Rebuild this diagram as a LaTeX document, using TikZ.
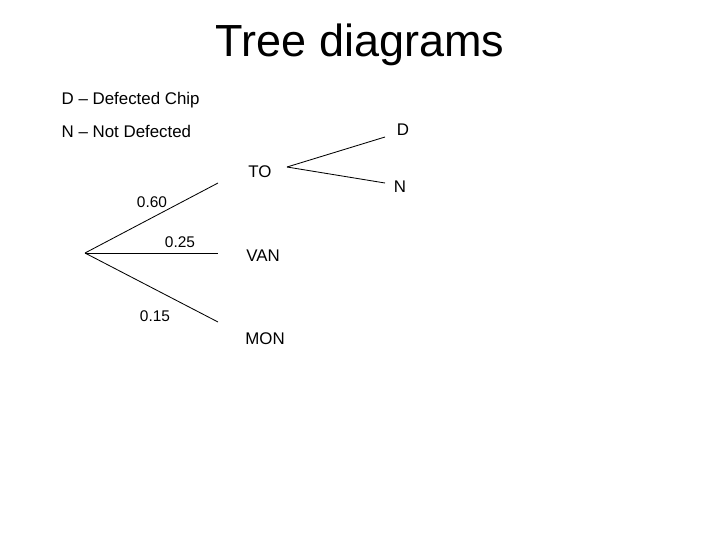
\documentclass[tikz,border=0pt]{standalone}
\usepackage{fontspec}
\setmainfont{Liberation Sans}
\begin{document}
\begin{tikzpicture}[x=0.025cm,y=-0.025cm,
    lbl/.style={font=\fontsize{12}{14}\selectfont, inner sep=1pt},
    prob/.style={font=\fontsize{11}{13}\selectfont, inner sep=1pt},
    branch/.style={line width=0.6pt}]
    \useasboundingbox (0,0) rectangle (720,540);

    % Title and key
    \node[font=\fontsize{32}{36}\selectfont] (title) at (360,45) {Tree diagrams};
    \node[lbl, anchor=west] (keyD) at (60,100) {D -- Defected Chip};
    \node[lbl, anchor=west] (keyN) at (60,131) {N -- Not Defected};

    % Tree
    \coordinate (root) at (85,253);
    \node[lbl] (to) at (260,172) {TO};
    \node[lbl] (van) at (263,256) {VAN};
    \node[lbl] (mon) at (265,339) {MON};
    \node[lbl] (d) at (403,130) {D};
    \node[lbl] (n) at (400,187) {N};
    \coordinate (toEnd) at (218,183);
    \coordinate (vanEnd) at (218,253);
    \coordinate (monEnd) at (218,322);
    \coordinate (toOut) at (287,167);

    \draw[branch] (root) -- (toEnd);
    \draw[branch] (root) -- (vanEnd);
    \draw[branch] (root) -- (monEnd);
    \draw[branch] (toOut) -- (385,137);
    \draw[branch] (toOut) -- (385,183);

    \node[prob] (p60) at (152,202) {0.60};
    \node[prob] (p25) at (180,242) {0.25};
    \node[prob] (p15) at (155,316) {0.15};
\end{tikzpicture}
\end{document}
